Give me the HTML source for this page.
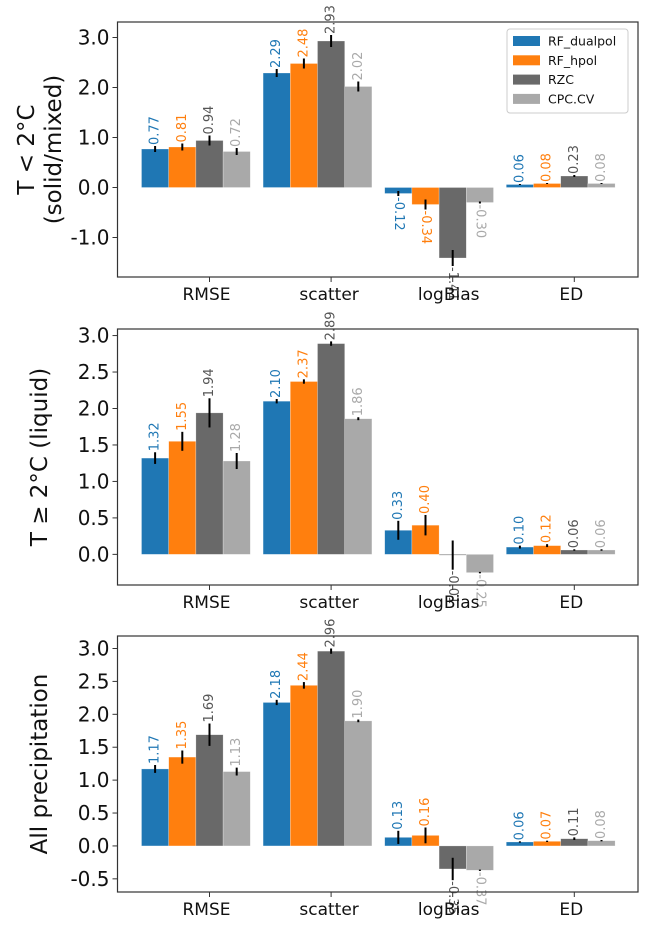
<!DOCTYPE html>
<html><head><meta charset="utf-8"><style>
body{margin:0;background:#fff;width:646px;height:924px;overflow:hidden}
svg{font-family:"DejaVu Sans","Liberation Sans",sans-serif}
</style></head><body>
<svg id="chart" width="646" height="924" xmlns="http://www.w3.org/2000/svg"></svg>
<script>
const categories = ["RMSE","scatter","logBias","ED"];
const seriesNames = ["RF_dualpol","RF_hpol","RZC","CPC.CV"];
const colors = ["#1f77b4","#ff7f0e","#696969","#a9a9a9"];
const textColors = ["#1f77b4","#ff7f0e","#555555","#a9a9a9"];

const p1Values = [[0.77,2.29,-0.12,0.06],[0.81,2.48,-0.34,0.08],[0.94,2.93,-1.41,0.23],[0.72,2.02,-0.30,0.08]];
const p1Errors = [[0.06,0.08,0.05,0.01],[0.07,0.1,0.1,0.01],[0.1,0.12,0.16,0.02],[0.07,0.1,0.02,0.01]];
const p2Values = [[1.32,2.10,0.33,0.10],[1.55,2.37,0.40,0.12],[1.94,2.89,-0.01,0.06],[1.28,1.86,-0.25,0.06]];
const p2Errors = [[0.08,0.03,0.13,0.02],[0.13,0.03,0.14,0.02],[0.2,0.03,0.2,0.01],[0.11,0.02,0.01,0.01]];
const p3Values = [[1.17,2.18,0.13,0.06],[1.35,2.44,0.16,0.07],[1.69,2.96,-0.35,0.11],[1.13,1.90,-0.37,0.08]];
const p3Errors = [[0.06,0.04,0.1,0.01],[0.1,0.05,0.12,0.01],[0.17,0.04,0.17,0.02],[0.06,0.02,0.01,0.01]];
const p1Ticks = ["3.0","2.0","1.0","0.0","-1.0"];
const p2Ticks = ["3.0","2.5","2.0","1.5","1.0","0.5","0.0"];
const p3Ticks = ["3.0","2.5","2.0","1.5","1.0","0.5","0.0","-0.5"];

const NS="http://www.w3.org/2000/svg";
const svg=document.getElementById('chart');
function mk(tag,attrs,parent){const e=document.createElementNS(NS,tag);for(const k in attrs)e.setAttribute(k,attrs[k]);(parent||svg).appendChild(e);return e;}

const panels=[
 {vals:p1Values,errs:p1Errors,ticks:p1Ticks,top:22,bottom:277,ymax:3.31,ymin:-1.79,ylab:["T < 2°C","(solid/mixed)"],legend:true,name:"panel-solid"},
 {vals:p2Values,errs:p2Errors,ticks:p2Ticks,top:329,bottom:585,ymax:3.09,ymin:-0.42,ylab:["T ≥ 2°C (liquid)"],name:"panel-liquid"},
 {vals:p3Values,errs:p3Errors,ticks:p3Ticks,top:636,bottom:892,ymax:3.19,ymin:-0.70,ylab:["All precipitation"],name:"panel-all"}
];
const L=117.5,R=638,bw=27.2,gstep=121.6,g0=209.5;
function xC(i,j){return g0+gstep*i+(j-2)*bw;}

panels.forEach(p=>{
 const g=mk('g',{});
 
 
 const y=v=>p.top+(p.ymax-v)/(p.ymax-p.ymin)*(p.bottom-p.top);
 p.vals.forEach((ser,j)=>ser.forEach((v,i)=>{
  const y0=y(0),yv=y(v);
  const r=mk('rect',{x:xC(i,j)-bw/2,y:Math.min(y0,yv),width:bw,height:Math.max(Math.abs(yv-y0),0.8),fill:colors[j],stroke:'#ffffff','stroke-width':0.5,'stroke-opacity':0.5},g);
  
  
 }));
 p.vals.forEach((ser,j)=>ser.forEach((v,i)=>{
  const e=p.errs[j][i],x=xC(i,j);
  const l=mk('line',{x1:x,x2:x,y1:y(v+e),y2:y(v-e),stroke:'#000','stroke-width':2},g);
  
  
  const txt=v.toFixed(2);
  let t;
  if(v>=0){
   const ty=y(v+e)-1;
   t=mk('text',{x:x,y:ty,transform:`rotate(-90 ${x} ${ty})`,'font-size':13,fill:textColors[j],'dominant-baseline':'central'},g);
  }else{
   const ty=y(v-e)+1;
   t=mk('text',{x:x,y:ty,transform:`rotate(90 ${x} ${ty})`,'font-size':13,fill:textColors[j],'dominant-baseline':'central'},g);
  }
  t.textContent=txt;
  
  
 }));
 const f=mk('rect',{x:L,y:p.top,width:R-L,height:p.bottom-p.top,fill:'none',stroke:'#333','stroke-width':1.2},g);
 
 
 p.ticks.forEach(s=>{
  const ty=y(parseFloat(s));
  mk('line',{x1:L-5,x2:L,y1:ty,y2:ty,stroke:'#333','stroke-width':1},g);
  const t=mk('text',{x:L-8,y:ty,'text-anchor':'end','dominant-baseline':'central','font-size':20,fill:'#111'},g);
  t.textContent=s;
  
  
 });
 categories.forEach((c,i)=>{
  const tx=g0+gstep*i;
  mk('line',{x1:tx,x2:tx,y1:p.bottom,y2:p.bottom+5,stroke:'#333','stroke-width':1},g);
  const t=mk('text',{x:tx-(i==1?2:i==2?4:3),y:p.bottom+23,'text-anchor':'middle','font-size':17,fill:'#111'},g);
  t.textContent=c;
  
  
 });
 const cy=(p.top+p.bottom)/2;
 p.ylab.forEach((s,k)=>{
  const cx=p.ylab.length==2?(27+k*27):40;
  const t=mk('text',{x:cx,y:cy,transform:`rotate(-90 ${cx} ${cy})`,'text-anchor':'middle','dominant-baseline':'central','font-size':23,fill:'#111'},g);
  t.textContent=s;
  
  
 });
 if(p.legend){
  const lg=mk('g',{},g);
  
  
  mk('rect',{x:507,y:29,width:121,height:84,rx:3,fill:'#fff','fill-opacity':0.85,stroke:'#ccc'},lg);
  seriesNames.forEach((n,j)=>{
   const ly=41+j*19.3;
   mk('rect',{x:513,y:ly-5,width:27,height:10,fill:colors[j]},lg);
   const t=mk('text',{x:548,y:ly,'dominant-baseline':'central','font-size':12.5,fill:'#111'},lg);
   t.textContent=n;
   
   
  });
 }
});
</script>
</body></html>
